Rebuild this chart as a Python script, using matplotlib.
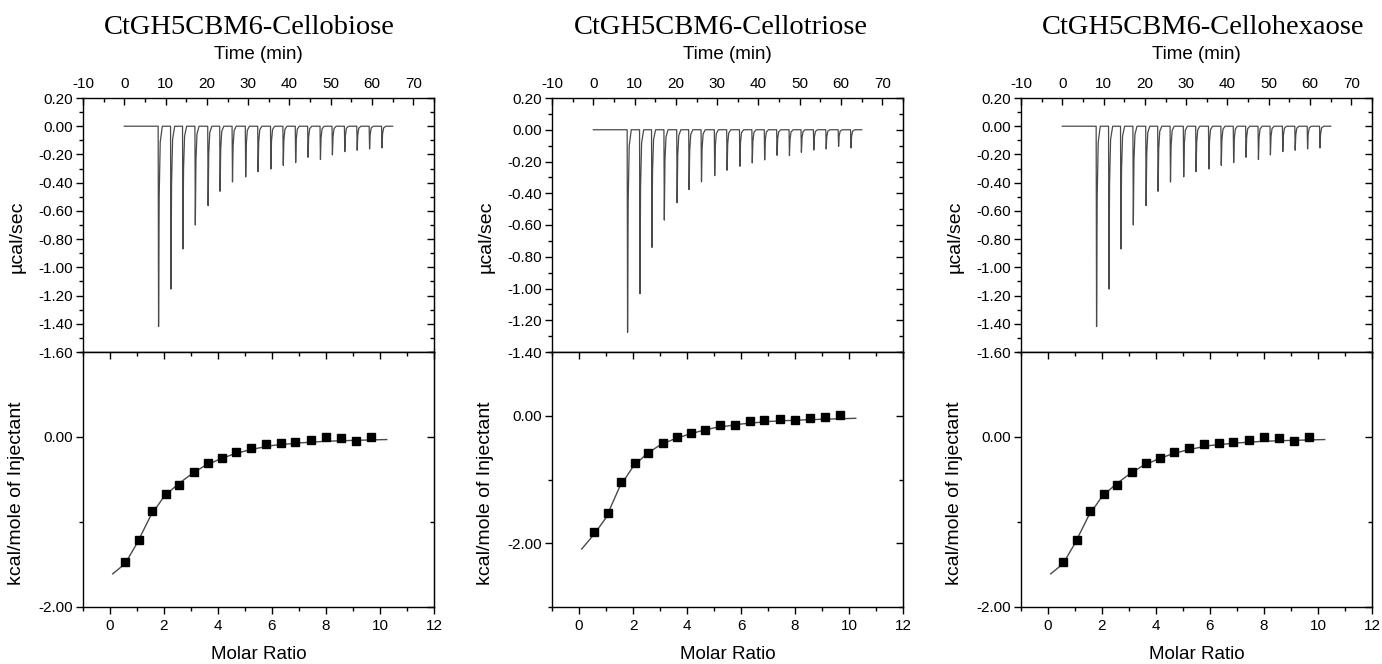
import matplotlib
matplotlib.use("Agg")
import matplotlib.pyplot as plt
from matplotlib.ticker import MultipleLocator, FixedLocator, FormatStrFormatter

plt.rcParams['font.family'] = ['Liberation Sans', 'DejaVu Sans']
plt.rcParams['axes.unicode_minus'] = False

# ---------------- data ----------------
titles = ["CtGH5CBM6-Cellobiose", "CtGH5CBM6-Cellotriose", "CtGH5CBM6-Cellohexaose"]

# injection times (min) of the raw ITC trace
inj_time = [8.3, 11.3, 14.2, 17.2, 20.3, 23.2, 26.2, 29.4, 32.4, 35.5,
            38.5, 41.5, 44.5, 47.5, 50.4, 53.4, 56.4, 59.4, 62.4]
baseline_start = 0.0
baseline_end = 65.0

# peak minima (ucal/sec)
peaks_cellobiose = [-1.42, -1.154, -0.870, -0.700, -0.563, -0.461, -0.395, -0.359, -0.322, -0.303,
                    -0.277, -0.258, -0.220, -0.236, -0.203, -0.180, -0.170, -0.161, -0.154]
peaks_cellotriose = [-1.276, -1.033, -0.741, -0.569, -0.460, -0.377, -0.328, -0.289, -0.255, -0.230,
                     -0.209, -0.190, -0.161, -0.163, -0.142, -0.128, -0.121, -0.105, -0.115]
peaks_cellohexaose = [-1.42, -1.154, -0.870, -0.700, -0.563, -0.461, -0.395, -0.359, -0.322, -0.303,
                      -0.277, -0.258, -0.220, -0.236, -0.203, -0.180, -0.170, -0.161, -0.154]

# integrated heats
molar_ratio = [0.56, 1.07, 1.56, 2.07, 2.57, 3.10, 3.62, 4.13, 4.66, 5.23,
               5.76, 6.32, 6.87, 7.43, 7.99, 8.54, 9.11, 9.68]
heat_cellobiose = [-1.468, -1.209, -0.870, -0.673, -0.567, -0.406, -0.307, -0.252, -0.173, -0.134,
                   -0.083, -0.071, -0.063, -0.031, -0.004, -0.012, -0.047, 0.0]
heat_cellotriose = [-1.831, -1.525, -1.045, -0.749, -0.580, -0.422, -0.338, -0.264, -0.222, -0.142,
                    -0.142, -0.084, -0.063, -0.047, -0.063, -0.042, -0.021, 0.011]
heat_cellohexaose = [-1.468, -1.209, -0.870, -0.673, -0.567, -0.406, -0.307, -0.252, -0.173, -0.134,
                     -0.083, -0.071, -0.063, -0.031, -0.004, -0.012, -0.047, 0.0]

# fitted curves
fit_x = [0.1, 0.56, 1.0, 1.5, 2.0, 2.5, 3.0, 3.5, 4.0, 4.5, 5.0, 5.5, 6.0, 7.0, 8.0, 9.0, 10.25]
fit_cellobiose = [-1.61, -1.49, -1.25, -0.93, -0.70, -0.56, -0.44, -0.34, -0.27, -0.21,
                  -0.165, -0.13, -0.10, -0.07, -0.05, -0.04, -0.03]
fit_cellotriose = [-2.09, -1.86, -1.60, -1.12, -0.80, -0.60, -0.46, -0.37, -0.30, -0.24,
                   -0.19, -0.16, -0.13, -0.09, -0.07, -0.055, -0.04]
fit_cellohexaose = [-1.61, -1.49, -1.25, -0.93, -0.70, -0.56, -0.44, -0.34, -0.27, -0.21,
                    -0.165, -0.13, -0.10, -0.07, -0.05, -0.04, -0.03]

top_ylims = [(-1.6, 0.2), (-1.4, 0.2), (-1.6, 0.2)]
bot_ylims = [(-2.0, 1.0), (-3.0, 1.0), (-2.0, 1.0)]

peaks_all = [peaks_cellobiose, peaks_cellotriose, peaks_cellohexaose]
heat_all = [heat_cellobiose, heat_cellotriose, heat_cellohexaose]
fit_all = [fit_cellobiose, fit_cellotriose, fit_cellohexaose]

# ---------------- figure ----------------
W, H = 1382, 664
fig = plt.figure(figsize=(W / 100, H / 100), dpi=100)

lefts = [83, 552, 1021]
axw = 351
top_y0, top_y1 = 98, 352
bot_y0, bot_y1 = 352, 607
title_x = [249, 721, 1203]

TICK_FS = 11
LAB_FS = 13.5
YLAB_FS = 14


def trace(times, depths):
    xs = [baseline_start]
    ys = [0.0]
    for t, d in zip(times, depths):
        xs += [t - 0.1, t, t + 0.15, t + 0.4, t + 0.9]
        ys += [0.0, d, 0.35 * d, 0.08 * d, 0.0]
    xs.append(baseline_end)
    ys.append(0.0)
    return xs, ys


def style_ticks(a):
    a.tick_params(which='major', length=5, width=1.0)
    a.tick_params(which='minor', length=3, width=1.0)


for i in range(3):
    L = lefts[i] / W
    axT = fig.add_axes([L, 1 - top_y1 / H, axw / W, (top_y1 - top_y0) / H])
    axB = fig.add_axes([L, 1 - bot_y1 / H, axw / W, (bot_y1 - bot_y0) / H])

    # ---- raw thermogram ----
    xs, ys = trace(inj_time, peaks_all[i])
    axT.plot(xs, ys, color='#4a4a4a', lw=0.9)
    axT.set_xlim(-10, 75)
    axT.set_ylim(*top_ylims[i])
    axT.xaxis.set_major_locator(MultipleLocator(10))
    axT.xaxis.set_minor_locator(MultipleLocator(5))
    axT.yaxis.set_major_locator(MultipleLocator(0.2))
    axT.yaxis.set_minor_locator(MultipleLocator(0.1))
    axT.yaxis.set_major_formatter(FormatStrFormatter('%.2f'))
    axT.xaxis.tick_top()
    axT.xaxis.set_label_position('top')
    axT.tick_params(axis='x', which='both', direction='in', top=True, bottom=False,
                    labeltop=True, labelbottom=False, labelsize=TICK_FS, pad=5)
    axT.tick_params(axis='y', which='both', direction='out', left=True, right=False,
                    labelsize=TICK_FS, pad=2)
    style_ticks(axT)
    axT.set_xlabel('Time (min)', fontsize=LAB_FS, labelpad=13)
    axT.set_ylabel('\u00b5cal/sec', fontsize=YLAB_FS)
    axT.yaxis.set_label_coords(-0.163, 0.453)
    secT = axT.secondary_yaxis('right')
    secT.yaxis.set_major_locator(MultipleLocator(0.2))
    secT.yaxis.set_minor_locator(MultipleLocator(0.1))
    secT.tick_params(axis='y', which='both', direction='in', labelright=False)
    style_ticks(secT)

    # ---- binding isotherm ----
    axB.plot(fit_x, fit_all[i], color='#4a4a4a', lw=1.0, zorder=2)
    axB.plot(molar_ratio, heat_all[i], 's', color='black', ms=5.5, zorder=3)
    axB.set_xlim(-1, 12)
    axB.set_ylim(*bot_ylims[i])
    axB.xaxis.set_major_locator(MultipleLocator(2))
    axB.xaxis.set_minor_locator(MultipleLocator(1))
    axB.yaxis.set_major_locator(FixedLocator([-2.0, 0.0]))
    axB.yaxis.set_minor_locator(MultipleLocator(1))
    axB.yaxis.set_major_formatter(FormatStrFormatter('%.2f'))
    axB.tick_params(axis='x', which='both', direction='out', top=False, bottom=True,
                    labelsize=TICK_FS, pad=4)
    axB.tick_params(axis='y', which='both', direction='out', left=True, right=False,
                    labelsize=TICK_FS, pad=2)
    style_ticks(axB)
    axB.set_xlabel('Molar Ratio', fontsize=LAB_FS, labelpad=9)
    axB.set_ylabel('kcal/mole of Injectant', fontsize=YLAB_FS)
    axB.yaxis.set_label_coords(-0.166, 0.447)
    secR = axB.secondary_yaxis('right')
    secR.yaxis.set_major_locator(FixedLocator([-2.0, 0.0]))
    secR.yaxis.set_minor_locator(MultipleLocator(1))
    secR.tick_params(axis='y', which='both', direction='in', labelright=False)
    style_ticks(secR)
    secX = axB.secondary_xaxis('top')
    secX.xaxis.set_major_locator(MultipleLocator(2))
    secX.xaxis.set_minor_locator(MultipleLocator(1))
    secX.tick_params(axis='x', which='both', direction='in', labeltop=False)
    style_ticks(secX)

    for ax in (axT, axB):
        for s in ax.spines.values():
            s.set_linewidth(1.0)

    fig.text(title_x[i] / W, 1 - 27 / H, titles[i], ha='center', va='center',
             fontsize=20.5, family=['Liberation Serif', 'DejaVu Serif'])

fig.savefig('out.png', dpi=100)
